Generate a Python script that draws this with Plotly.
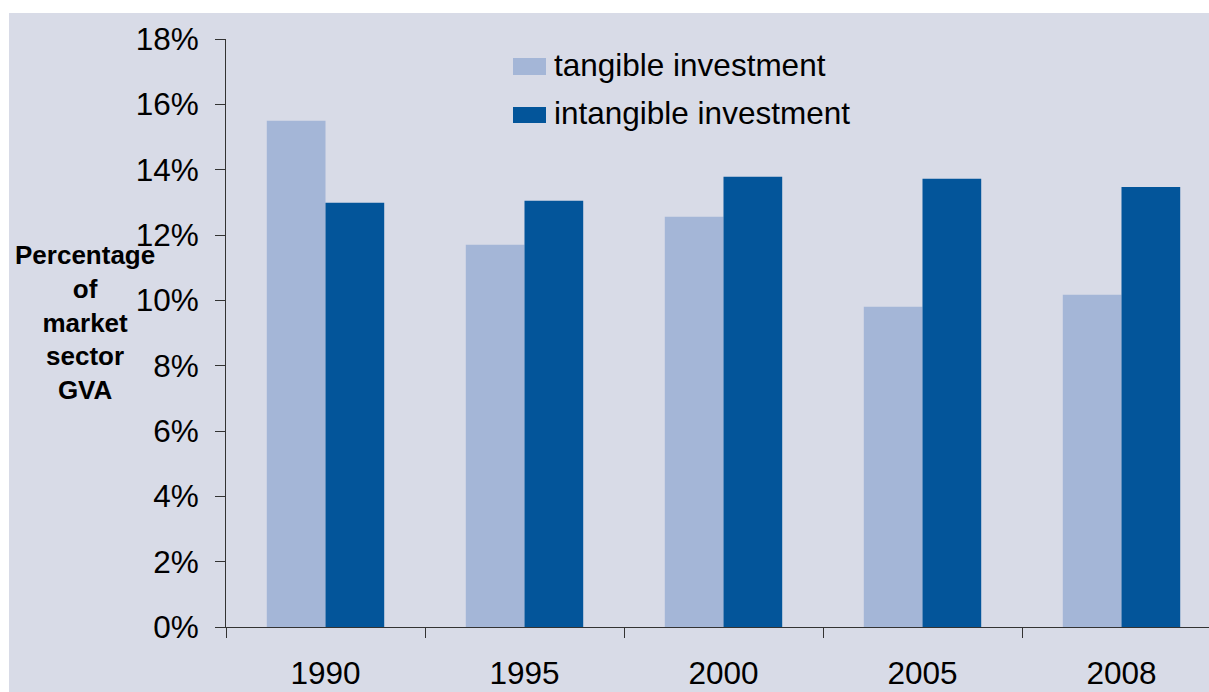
import plotly.graph_objects as go

years = ["1990", "1995", "2000", "2005", "2008"]
tangible = [15.5, 11.7, 12.56, 9.8, 10.17]
intangible = [12.99, 13.05, 13.78, 13.72, 13.47]
series_names = ["tangible investment", "intangible investment"]
y_ticks = [0, 2, 4, 6, 8, 10, 12, 14, 16, 18]
y_tick_labels = [f"{v}%" for v in y_ticks]

BG = "#D8DBE7"
LIGHT = "#A4B6D7"
DARK = "#03559A"
FONT = "Liberation Sans, Arial, sans-serif"
FS = 31.5

# the page's body margin is removed below, so figure coordinates = screen coordinates
W, H = 1209, 692
ML, MT, MB, MR = 226, 39, 65, 0
PW = W - ML - MR
PH = H - MT - MB
CAT_PX = 199  # pixels per category
X_END = -0.5 + PW / CAT_PX


def X(px):
    return (px - ML) / PW


def Y(py):
    return (H - MB - py) / PH


fig = go.Figure()
fig.add_trace(go.Bar(x=years, y=tangible, name=series_names[0],
                     marker=dict(color=LIGHT, line=dict(width=0)), showlegend=False))
fig.add_trace(go.Bar(x=years, y=intangible, name=series_names[1],
                     marker=dict(color=DARK, line=dict(width=0)), showlegend=False))

shapes = [
    # white strips at top and left
    dict(type="rect", xref="paper", yref="paper", x0=X(-5), x1=X(W + 5), y0=Y(13), y1=Y(-5),
         fillcolor="white", line=dict(width=0), layer="above"),
    dict(type="rect", xref="paper", yref="paper", x0=X(-5), x1=X(9), y0=Y(H + 5), y1=Y(-5),
         fillcolor="white", line=dict(width=0), layer="above"),
    # legend patches
    dict(type="rect", xref="paper", yref="paper", x0=X(513), x1=X(546), y0=Y(75), y1=Y(58),
         fillcolor=LIGHT, line=dict(width=0), layer="above"),
    dict(type="rect", xref="paper", yref="paper", x0=X(513), x1=X(546), y0=Y(123), y1=Y(107),
         fillcolor=DARK, line=dict(width=0), layer="above"),
]

annotations = [
    dict(xref="paper", yref="paper", x=X(552), y=Y(65), xanchor="left", yanchor="middle",
         text=series_names[0], showarrow=False, font=dict(size=FS, color="black", family=FONT)),
    dict(xref="paper", yref="paper", x=X(552), y=Y(113), xanchor="left", yanchor="middle",
         text=series_names[1], showarrow=False, font=dict(size=FS, color="black", family=FONT)),
    dict(xref="paper", yref="paper", x=X(85), y=Y(322), xanchor="center", yanchor="middle",
         text="<b>Percentage<br>of<br>market<br>sector<br>GVA</b>", align="center",
         showarrow=False, font=dict(size=26, color="black", family=FONT)),
]

fig.update_layout(
    width=W, height=H,
    margin=dict(l=ML, r=MR, t=MT, b=MB, pad=0),
    paper_bgcolor=BG, plot_bgcolor=BG,
    barmode="group", bargap=0.41, bargroupgap=0,
    font=dict(family=FONT, size=FS, color="black"),
    shapes=shapes, annotations=annotations,
    showlegend=False,
)
fig.update_xaxes(
    type="category", range=[-0.5, X_END], showline=True, linecolor="#333333", linewidth=1,
    ticks="outside", ticklen=10, tickcolor="#333333", tickwidth=1, tickson="boundaries",
    showgrid=False, zeroline=False, ticklabelstandoff=18,
    tickfont=dict(size=FS, family=FONT, color="black"),
)
fig.update_yaxes(
    range=[0, 18], tickvals=y_ticks, ticktext=y_tick_labels, showline=True,
    linecolor="#333333", linewidth=1, ticks="outside", ticklen=10, tickcolor="#333333",
    tickwidth=1, showgrid=False, zeroline=False, ticklabelstandoff=10,
    tickfont=dict(size=FS, family=FONT, color="black"),
)

fig.write_html("out.html", config={"displayModeBar": False},
               post_script="document.body.style.margin='0px';")
